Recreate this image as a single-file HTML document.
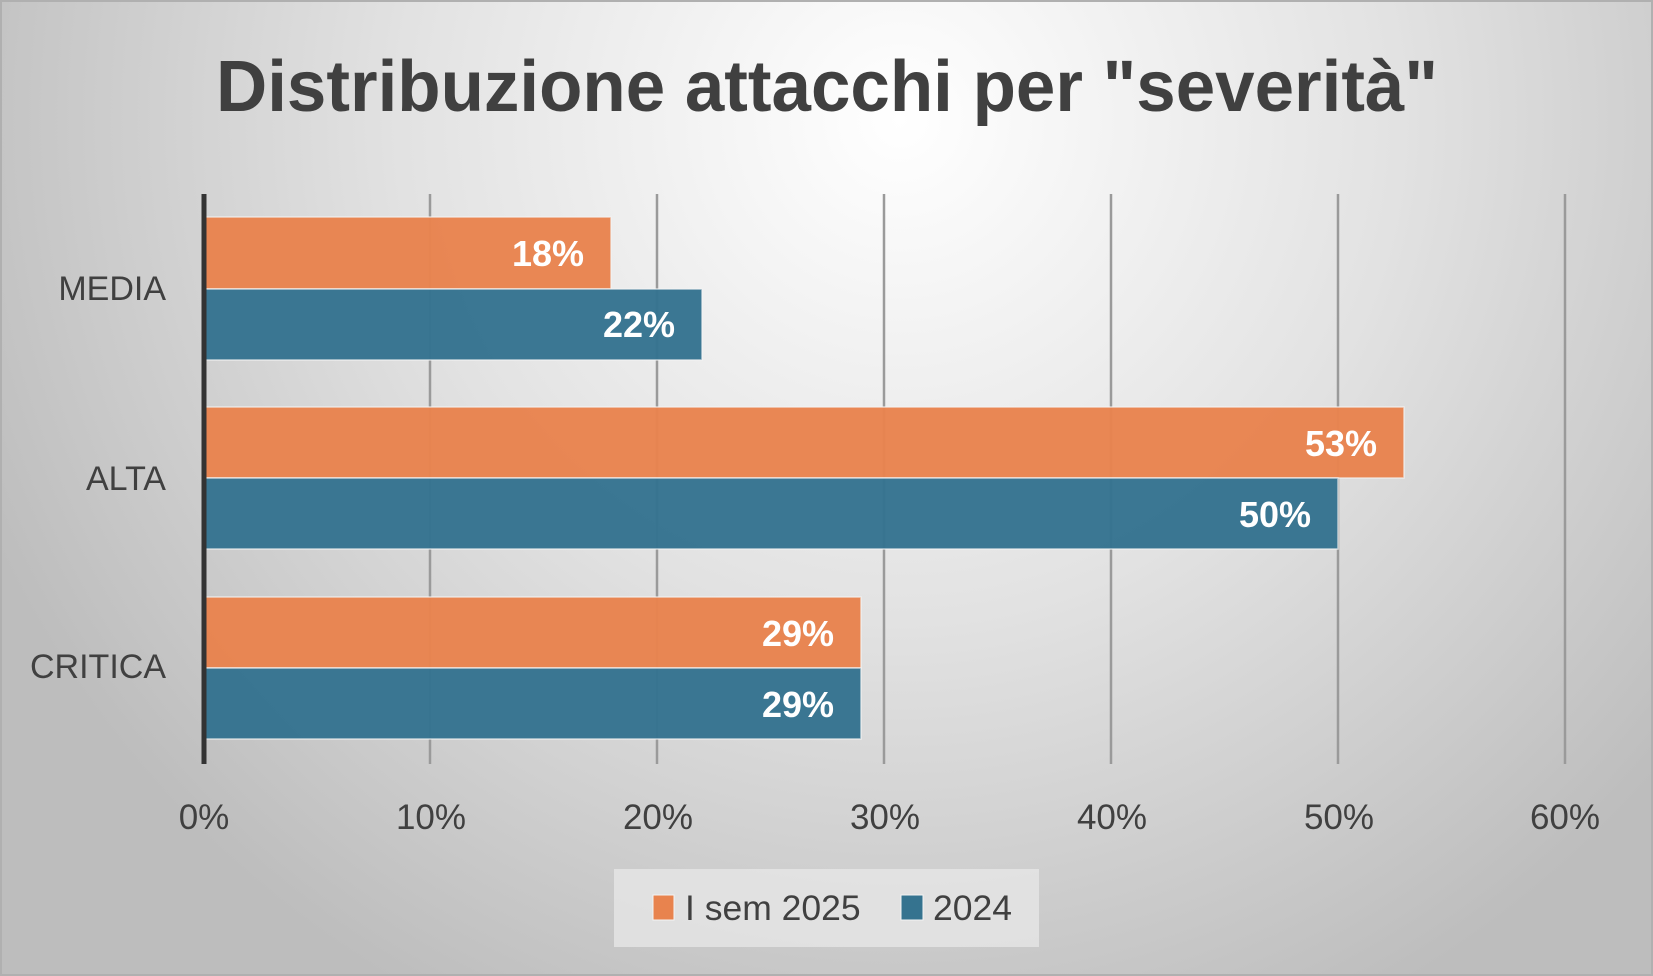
<!DOCTYPE html>
<html><head><meta charset="utf-8"><style>
html,body{margin:0;padding:0;width:1653px;height:976px;overflow:hidden}
svg{display:block}
text{font-family:"Liberation Sans",sans-serif}
</style></head><body>
<svg width="1653" height="976" viewBox="0 0 1653 976">
<defs>
<radialGradient id="bg" cx="900" cy="120" r="1000" gradientUnits="userSpaceOnUse">
<stop offset="0" stop-color="#ffffff"/>
<stop offset="0.5" stop-color="#e2e2e2"/>
<stop offset="1" stop-color="#bdbdbd"/>
</radialGradient>
</defs>
<rect x="0" y="0" width="1653" height="976" fill="url(#bg)"/>
<rect x="1" y="1" width="1651" height="974" fill="none" stroke="#b0b0b0" stroke-width="2"/>
<text x="827" y="111" text-anchor="middle" font-size="72" font-weight="bold" fill="#404040" textLength="1222" lengthAdjust="spacingAndGlyphs">Distribuzione attacchi per "severità"</text>
<g stroke="#9a9a9a" stroke-width="2.5">
<line x1="430" y1="194" x2="430" y2="764"/>
<line x1="657" y1="194" x2="657" y2="764"/>
<line x1="884" y1="194" x2="884" y2="764"/>
<line x1="1111" y1="194" x2="1111" y2="764"/>
<line x1="1338" y1="194" x2="1338" y2="764"/>
<line x1="1565" y1="194" x2="1565" y2="764"/>
</g>
<g stroke="#f3f3f3" stroke-width="1.5" stroke-opacity="0.7">
<rect x="205" y="217" width="406" height="72" fill="#E8834E" fill-opacity="0.97"/>
<rect x="205" y="289" width="497" height="71" fill="#35738F" fill-opacity="0.97"/>
<rect x="205" y="407" width="1199" height="71" fill="#E8834E" fill-opacity="0.97"/>
<rect x="205" y="478" width="1133" height="71" fill="#35738F" fill-opacity="0.97"/>
<rect x="205" y="597" width="656" height="71" fill="#E8834E" fill-opacity="0.97"/>
<rect x="205" y="668" width="656" height="71" fill="#35738F" fill-opacity="0.97"/>
</g>
<line x1="204" y1="194" x2="204" y2="764" stroke="#333" stroke-width="5"/>
<g font-size="36" font-weight="bold" fill="#fff" text-anchor="end">
<text x="584" y="266">18%</text>
<text x="675" y="337">22%</text>
<text x="1377" y="456">53%</text>
<text x="1311" y="527">50%</text>
<text x="834" y="646">29%</text>
<text x="834" y="717">29%</text>
</g>
<g font-size="34" fill="#404040" text-anchor="end">
<text x="166" y="300">MEDIA</text>
<text x="166" y="490">ALTA</text>
<text x="166" y="678">CRITICA</text>
</g>
<g font-size="35" fill="#404040" text-anchor="middle">
<text x="204" y="829">0%</text>
<text x="431" y="829">10%</text>
<text x="658" y="829">20%</text>
<text x="885" y="829">30%</text>
<text x="1112" y="829">40%</text>
<text x="1339" y="829">50%</text>
<text x="1565" y="829">60%</text>
</g>
<rect x="614" y="869" width="425" height="78" fill="#e6e6e6" fill-opacity="0.8"/>
<rect x="653" y="895" width="21" height="25" fill="#E8834E" stroke="#f3f3f3" stroke-width="1"/>
<text x="685" y="920" font-size="35.5" fill="#404040">I sem 2025</text>
<rect x="901" y="895" width="22" height="25" fill="#35738F" stroke="#f3f3f3" stroke-width="1"/>
<text x="933" y="920" font-size="35.5" fill="#404040">2024</text>
</svg>
</body></html>
